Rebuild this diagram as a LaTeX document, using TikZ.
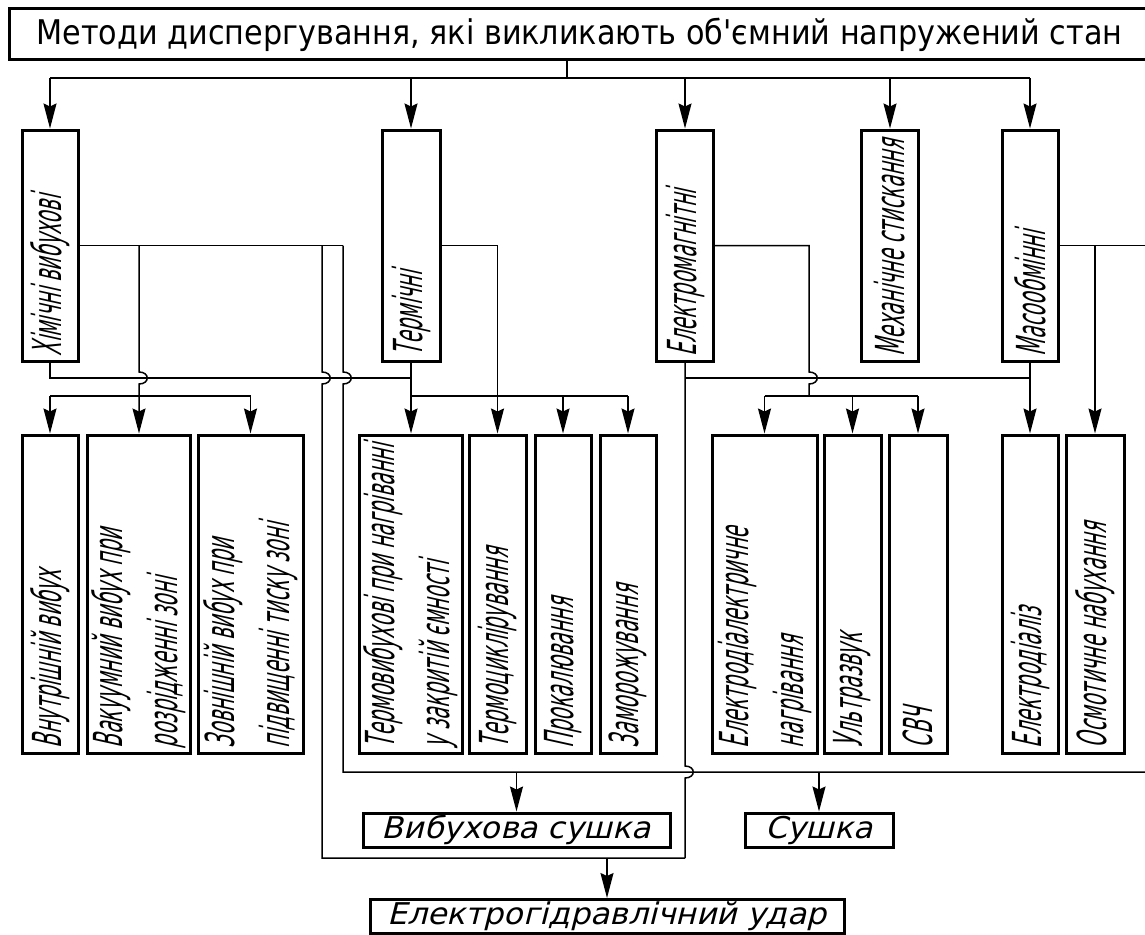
\documentclass[tikz,border=0pt]{standalone}
\usepackage{fontspec}
\usepackage{graphicx}
\usetikzlibrary{arrows.meta}
\newfontfamily\titlefont[FakeStretch=0.89]{DejaVu Sans}
\newfontfamily\vfont[FakeStretch=0.48,FakeSlant=0.22]{DejaVu Sans}
\newfontfamily\hfont[FakeStretch=1.05,FakeSlant=0.25]{DejaVu Sans}
\newcommand{\vlab}[2]{\rotatebox{90}{\parbox{#1}{\raggedright\vfont\fontsize{40}{55}\selectfont #2}}}

\begin{document}
\begin{tikzpicture}[x=1pt,y=-1pt,line width=1.5pt,
    box/.style={draw,line width=3pt,inner sep=0pt},
    one/.style={box,minimum width=#1,minimum height=231pt},
    two/.style={box,minimum width=#1,minimum height=318pt},
    flat/.style={box,minimum width=#1,minimum height=34pt,font=\hfont\fontsize{30}{34}\selectfont},
    hop/.style args={#1:#2}{insert path={-- (#1,#2-6) .. controls (#1+11,#2-6) and (#1+11,#2+6) .. (#1,#2+6)}},
    >={Stealth[length=25pt,width=13pt,inset=3pt]}]
  \useasboundingbox (0,0) rectangle (1145,934);
  \node[box,minimum width=1141pt,minimum height=51pt,font=\titlefont\fontsize{34}{34}\selectfont] (M) at (579.5,34.5)
    {Методи диспергування, які викликають об'ємний напружений стан};

  \node[one=56pt] (chem) at (50,245.5) {\vlab{221pt}{Хімічні вибухові}};
  \node[one=58pt] (therm) at (411,245.5) {\vlab{221pt}{Термічні}};
  \node[one=57pt] (elmag) at (685,245.5) {\vlab{221pt}{Електромагнітні}};
  \node[one=57pt] (mech) at (890,245.5) {\vlab{221pt}{Механічне стискання}};
  \node[one=56pt] (mass) at (1030,245.5) {\vlab{221pt}{Масообмінні}};

  \node[two=56pt] (inner) at (50,594) {\vlab{308pt}{Внутрішній вибух}};
  \node[two=103pt] (vac) at (139,594) {\vlab{308pt}{Вакуумний вибух при\\ розрідженні зоні}};
  \node[two=105pt] (outer) at (250.5,594) {\vlab{308pt}{Зовнішній вибух при\\ підвищенні тиску зоні}};
  \node[two=103pt] (texp) at (411,594) {\vlab{308pt}{Термовибухові при нагріванні\\ у закритій ємності}};
  \node[two=57pt] (tcyc) at (497.5,594) {\vlab{308pt}{Термоциклірування}};
  \node[two=56pt] (calc) at (563,594) {\vlab{308pt}{Прокалювання}};
  \node[two=56pt] (frz) at (628,594) {\vlab{308pt}{Заморожування}};
  \node[two=105pt] (diel) at (764.5,594) {\vlab{308pt}{Електродіалектричне\\ нагрівання}};
  \node[two=57pt] (ultra) at (852.5,594) {\vlab{308pt}{Ультразвук}};
  \node[two=58pt] (svch) at (918,594) {\vlab{308pt}{СВЧ}};
  \node[two=56pt] (dial) at (1030,594) {\vlab{308pt}{Електродіаліз}};
  \node[two=58pt] (osm) at (1095,594) {\vlab{308pt}{Осмотичне набухання}};

  \node[flat=307pt] (vsush) at (516.5,830) {Вибухова сушка};
  \node[flat=148pt] (sush) at (819,830) {Сушка};
  \node[flat=474pt] (egu) at (607,916.5) {Електрогідравлічний удар};

  \coordinate (t) at (567,78);
  \coordinate (r1) at (0,378);
  \coordinate (r2) at (0,396);
  \coordinate (d1) at (343,772);
  \coordinate (dr) at (1145,772);
  \coordinate (e1) at (322,858);
  \coordinate (g) at (809,245.5);
  \coordinate (mr) at (1145,245.5);

  \draw (M.south -| t) -- (t);
  \draw (chem.north |- t) -- (mass.north |- t);
  \foreach \n in {chem,therm,elmag,mech,mass}
    \draw[->] (\n.north |- t) -- (\n.north);

  % chem
  \draw (chem.south) -- (chem.south |- r1) -- (therm.south |- r1);
  \draw (chem.east) -- (d1 |- chem.east);
  \draw[->] (vac.north |- chem.east) [hop=139:378] -- (vac.north);
  \draw (inner.north |- r2) -- (outer.north |- r2);
  \draw[->] (inner.north |- r2) -- (inner.north);
  \draw[->] (outer.north |- r2) -- (outer.north);
  \draw (e1 |- chem.east) [hop=322:378] -- (e1) -- (elmag.south |- e1);
  \draw (d1 |- chem.east) [hop=343:378] -- (d1) -- (dr);

  % therm
  \draw[->] (therm.south) -- (texp.north);
  \draw (texp.north |- r2) -- (frz.north |- r2);
  \draw[->] (calc.north |- r2) -- (calc.north);
  \draw[->] (frz.north |- r2) -- (frz.north);
  \draw[->] (therm.east) -- (tcyc.north |- therm.east) -- (tcyc.north);

  % elmag
  \draw (elmag.south) [hop=685:772] -- (elmag.south |- e1);
  \draw (elmag.south |- r1) -- (mass.south |- r1);
  \draw (elmag.east) -- (g) [hop=809:378] -- (g |- r2);
  \draw (diel.north |- r2) -- (svch.north |- r2);
  \foreach \n in {diel,ultra,svch}
    \draw[->] (\n.north |- r2) -- (\n.north);

  % mass
  \draw[->] (mass.south) -- (dial.north);
  \draw (mass.east) -- (mr);
  \draw[->] (osm.north |- mass.east) -- (osm.north);

  \draw[->] (vsush.north |- d1) -- (vsush.north);
  \draw[->] (sush.north |- d1) -- (sush.north);
  \draw[->] (egu.north |- e1) -- (egu.north);
\end{tikzpicture}
\end{document}
